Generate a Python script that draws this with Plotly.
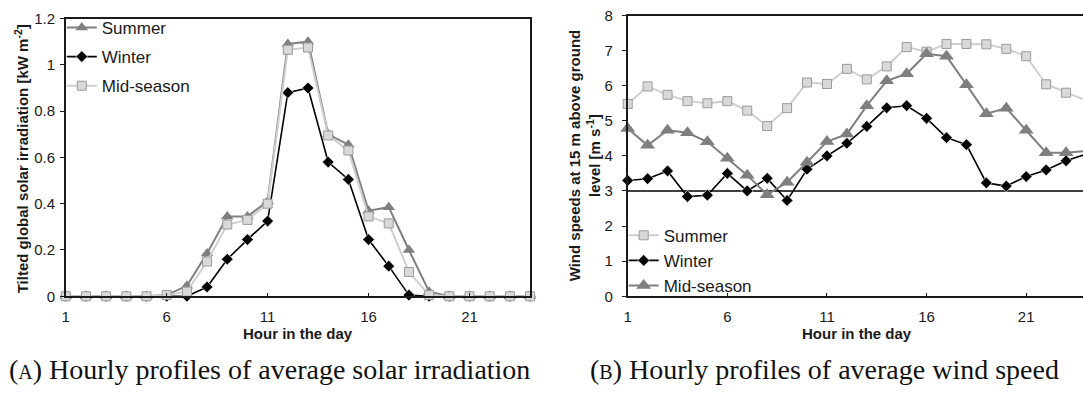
import plotly.graph_objects as go

# ---------------- data ----------------
hours = list(range(1, 25))

# (A) tilted global solar irradiation, kW m-2
solar_summer = [0, 0, 0, 0, 0, 0.005, 0.045, 0.185, 0.345, 0.345, 0.41, 1.09,
                1.10, 0.70, 0.655, 0.37, 0.385, 0.20, 0.02, 0, 0, 0, 0, 0]
solar_winter = [0, 0, 0, 0, 0, 0, 0, 0.04, 0.16, 0.245, 0.325, 0.88,
                0.90, 0.58, 0.505, 0.245, 0.13, 0.005, 0, 0, 0, 0, 0, 0]
solar_mid = [0, 0, 0, 0, 0, 0.005, 0.02, 0.15, 0.31, 0.33, 0.40, 1.065,
             1.075, 0.695, 0.63, 0.345, 0.315, 0.105, 0.005, 0, 0, 0, 0, 0]

# (B) wind speed at 15 m above ground, m s-1
wind_summer = [5.48, 5.98, 5.74, 5.56, 5.50, 5.56, 5.29, 4.85, 5.36, 6.09, 6.05, 6.48,
               6.18, 6.55, 7.10, 6.97, 7.19, 7.19, 7.18, 7.05, 6.84, 6.04, 5.80, 5.58]
wind_winter = [3.30, 3.35, 3.57, 2.84, 2.88, 3.50, 3.00, 3.36, 2.73, 3.62, 4.00, 4.36,
               4.84, 5.37, 5.43, 5.07, 4.52, 4.32, 3.23, 3.14, 3.41, 3.60, 3.86, 4.05]
wind_mid = [4.78, 4.30, 4.73, 4.66, 4.40, 3.93, 3.45, 2.89, 3.25, 3.82, 4.41, 4.62,
            5.43, 6.14, 6.34, 6.91, 6.84, 6.03, 5.20, 5.36, 4.73, 4.09, 4.09, 4.14]
wind_threshold = 3.0

x_ticks = [1, 6, 11, 16, 21]

# ---------------- styles ----------------
SANS = "Liberation Sans, Arial, sans-serif"
SERIF = "Liberation Serif, Times New Roman, serif"
DARK = "#7f7f7f"
LIGHT_LINE = "#cfcfcf"
LIGHT_FILL = "#d9d9d9"
LIGHT_EDGE = "#9a9a9a"

W, H = 1083, 400

fig = go.Figure()


def add_series(x, y, name, kind, xa, ya, legend, rank, tri_size=11):
    if kind == "tri":
        line = dict(color=DARK, width=2)
        marker = dict(symbol="triangle-up", size=tri_size, color=DARK,
                      line=dict(color=DARK, width=0))
    elif kind == "sq":
        line = dict(color=LIGHT_LINE, width=2)
        marker = dict(symbol="square", size=9, color=LIGHT_FILL,
                      line=dict(color=LIGHT_EDGE, width=1))
    else:
        line = dict(color="#000000", width=1.6)
        marker = dict(symbol="diamond", size=9, color="#000000",
                      line=dict(color="#ffffff", width=0.6))
    fig.add_trace(go.Scatter(
        x=x, y=y, name=name, mode="lines+markers", line=line, marker=marker,
        xaxis=xa, yaxis=ya, legend=legend, legendrank=rank,
        legendgroup=f"{legend}-{name}", cliponaxis=False,
    ))


# left panel: solar irradiation (winter drawn first so the grey series sit on top)
add_series(hours, solar_winter, "Winter", "dia", "x", "y", "legend", 2)
add_series(hours, solar_summer, "Summer", "tri", "x", "y", "legend", 1)
add_series(hours, solar_mid, "Mid-season", "sq", "x", "y", "legend", 3)

# right panel: wind speed
add_series(hours, wind_summer, "Summer", "sq", "x2", "y2", "legend2", 1)
add_series(hours, wind_winter, "Winter", "dia", "x2", "y2", "legend2", 2)
add_series(hours, wind_mid, "Mid-season", "tri", "x2", "y2", "legend2", 3, tri_size=13)

# reference wind speed line
fig.add_shape(type="line", xref="x2 domain", yref="y2", x0=0, x1=1,
              y0=wind_threshold, y1=wind_threshold,
              line=dict(color="#000000", width=1.6), layer="below")

tick_font = dict(family=SANS, size=15, color="#1a1a1a")
axis_common = dict(showgrid=False, zeroline=False, showline=True,
                   linecolor="#1a1a1a", linewidth=1.5, tickfont=tick_font,
                   tickcolor="#1a1a1a", ticklen=4, tickwidth=1)

legend_font = dict(family=SANS, size=17, color="#1a1a1a")

fig.update_layout(
    width=W, height=H,
    margin=dict(l=0, r=0, t=0, b=0),
    paper_bgcolor="white", plot_bgcolor="white",
    xaxis=dict(domain=[62 / W, 528 / W], range=[1, 24], tickvals=x_ticks,
               ticks="inside", mirror=True, anchor="y",
               ticklabelstandoff=6, **axis_common),
    yaxis=dict(domain=[0.25, 0.975], range=[0, 1.2], dtick=0.2,
               ticks="outside", mirror=True, anchor="x",
               ticklabelstandoff=2, **axis_common),
    xaxis2=dict(domain=[626 / W, 1.0], range=[1, 23.85], tickvals=x_ticks,
                ticks="inside", mirror=True, anchor="y2",
                ticklabelstandoff=6, **axis_common),
    yaxis2=dict(domain=[0.25, 0.983], range=[0, 8], dtick=1,
                ticks="outside", anchor="x2",
                ticklabelstandoff=6, **axis_common),
    legend=dict(x=58 / W, y=1 - 1 / H, xanchor="left", yanchor="top",
                bgcolor="rgba(0,0,0,0)", itemwidth=30, tracegroupgap=4,
                traceorder="grouped", font=legend_font),
    legend2=dict(x=622 / W, y=1 - 218 / H, xanchor="left", yanchor="top",
                 bgcolor="rgba(0,0,0,0)", itemwidth=30, tracegroupgap=0,
                 traceorder="grouped", font=legend_font),
    showlegend=True,
)

title_font = dict(family=SANS, size=15, color="#1a1a1a")
annotations = [
    # axis titles
    dict(text="<b>Hour in the day</b>", x=295 / W, y=1 - 339 / H,
         xanchor="center", yanchor="middle", font=title_font),
    dict(text="<b>Hour in the day</b>", x=856 / W, y=1 - 339 / H,
         xanchor="center", yanchor="middle", font=title_font),
    dict(text="<b>Tilted global solar irradiation [kW m<sup>-2</sup>]</b>",
         x=17 / W, y=1 - 156 / H, xanchor="center", yanchor="middle",
         textangle=-90, font=title_font),
    dict(text="<b>Wind speeds at 15 m above ground<br>level [m s<sup>-1</sup>]</b>",
         x=583 / W, y=1 - 153 / H, xanchor="center", yanchor="middle",
         textangle=-90, font=title_font),
    # panel captions
    dict(text="(<span style='font-size:20px'>A</span>) Hourly profiles of average solar irradiation",
         x=3 / W, y=1 - 376 / H, xanchor="left", yanchor="middle",
         font=dict(family=SERIF, size=28, color="#111111")),
    dict(text="(<span style='font-size:20px'>B</span>) Hourly profiles of average wind speed",
         x=586 / W, y=1 - 376 / H, xanchor="left", yanchor="middle",
         font=dict(family=SERIF, size=28, color="#111111")),
]
for a in annotations:
    a.update(xref="paper", yref="paper", showarrow=False)
fig.update_layout(annotations=annotations)

fig.write_html("out.html")
